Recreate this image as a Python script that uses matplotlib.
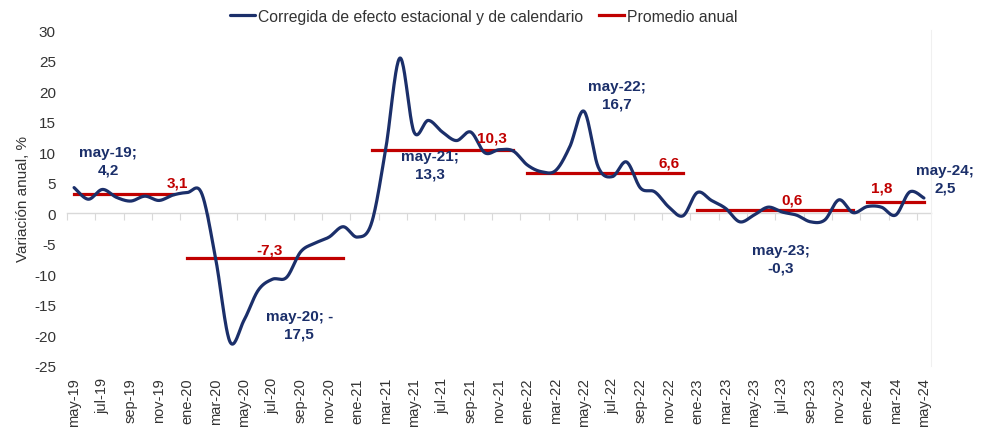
import matplotlib.pyplot as plt
import numpy as np

plt.rcParams['font.family'] = ['Liberation Sans', 'DejaVu Sans']
plt.rcParams['axes.unicode_minus'] = False

# monthly series, may-19 .. may-24
months_es = ['ene', 'feb', 'mar', 'abr', 'may', 'jun', 'jul', 'ago', 'sep', 'oct', 'nov', 'dic']
month_labels = []
for k in range(61):
    m = (4 + k) % 12
    yr = 19 + (4 + k) // 12
    month_labels.append('{}-{}'.format(months_es[m], yr))

values = [
    4.2, 2.3, 3.9, 2.6, 2.0, 2.8, 2.1, 3.0,                        # 2019
    3.4, 3.3, -7.5, -21.0, -17.5, -12.6, -10.8, -10.5, -6.3, -4.9, -3.9, -2.2,  # 2020
    -3.9, -1.6, 10.5, 25.4, 13.3, 15.2, 13.3, 11.9, 13.3, 9.9, 10.4, 10.2,     # 2021
    7.9, 6.8, 7.0, 10.9, 16.7, 7.6, 6.0, 8.4, 4.1, 3.5, 1.0, -0.4,             # 2022
    3.4, 2.1, 0.8, -1.4, -0.3, 1.0, 0.2, -0.3, -1.4, -1.1, 2.2, 0.1,           # 2023
    1.1, 1.0, -0.3, 3.5, 2.5,                                                  # 2024
]

# annual averages: value, first and last month index of the segment
avg_values = [3.1, -7.3, 10.3, 6.6, 0.6, 1.8]
avg_labels = ['3,1', '-7,3', '10,3', '6,6', '0,6', '1,8']
avg_start = [0, 8, 21, 32, 44, 56]
avg_end = [7, 19, 31, 43, 55, 60]

# highlighted points
note_idx = [0, 12, 24, 36, 48, 60]
note_text = ['may-19;\n4,2', 'may-20; -\n17,5', 'may-21;\n13,3',
             'may-22;\n16,7', 'may-23;\n-0,3', 'may-24;\n2,5']

navy = '#1b2f6a'
red = '#c00000'
gray_txt = '#333333'


def smooth(x, y, n=24):
    # Catmull-Rom like Excel's smoothed line
    x = np.asarray(x, float)
    y = np.asarray(y, float)
    xs, ys = [], []
    for i in range(len(x) - 1):
        i0 = max(i - 1, 0)
        i3 = min(i + 2, len(x) - 1)
        t = np.linspace(0, 1, n, endpoint=False)
        for arr, out in ((x, xs), (y, ys)):
            p0, p1, p2, p3 = arr[i0], arr[i], arr[i + 1], arr[i3]
            out.extend(0.5 * ((2 * p1) + (-p0 + p2) * t
                              + (2 * p0 - 5 * p1 + 4 * p2 - p3) * t ** 2
                              + (-p0 + 3 * p1 - 3 * p2 + p3) * t ** 3))
    xs.append(x[-1])
    ys.append(y[-1])
    return np.array(xs), np.array(ys)


fig = plt.figure(figsize=(9.83, 4.31), dpi=100)
ax = fig.add_axes([67 / 983, 1 - 367 / 431, (931 - 67) / 983, (367 - 31) / 431])

xi = np.arange(len(values))
sx, sy = smooth(xi, values)
ax.plot(sx, sy, color=navy, lw=2.3, solid_capstyle='round',
        label='Corregida de efecto estacional y de calendario', zorder=3)

for k, (v, a, b) in enumerate(zip(avg_values, avg_start, avg_end)):
    ax.plot([a, b], [v, v], color=red, lw=2.3,
            label='Promedio anual' if k == 0 else None, zorder=2)

ax.set_xlim(-0.5, len(values) - 0.5)
ax.set_ylim(-25, 30)
ax.set_yticks(np.arange(-25, 31, 5))
ax.tick_params(axis='y', length=0, labelsize=11, colors=gray_txt, pad=8)
ax.set_xticks(xi[::2])
ax.set_xticklabels(month_labels[::2], rotation=90)
ax.tick_params(axis='x', length=0, labelsize=10.5, colors=gray_txt, pad=8)
for s in ['top', 'bottom', 'left']:
    ax.spines[s].set_visible(False)
ax.spines['right'].set_color('#f0f0f0')

# horizontal axis line at zero with tick marks between categories
zero_ax = ax.secondary_xaxis(25 / 55)
zero_ax.set_xticks(np.arange(-0.5, len(values), 2))
zero_ax.tick_params(axis='x', direction='out', length=5, color='#d9d9d9',
                    labelbottom=False, labeltop=False)
zero_ax.spines['bottom'].set_color('#d9d9d9')
zero_ax.spines['bottom'].set_linewidth(1)

ax.set_ylabel('Variación anual, %', fontsize=11, color=gray_txt, labelpad=3)

# annotations
avg_pos = [(7.3, 5.0), (13.8, -6.0), (29.5, 12.4), (42.0, 8.3), (50.7, 2.2), (57.0, 4.3)]
for (tx, ty), t in zip(avg_pos, avg_labels):
    ax.text(tx, ty, t, color=red, fontsize=11, fontweight='bold', ha='center', va='center')

note_pos = [(2.4, 8.6), (15.9, -18.2), (25.1, 7.9), (38.3, 19.4), (49.9, -7.4), (61.5, 5.6)]
for (tx, ty), t in zip(note_pos, note_text):
    ax.text(tx, ty, t, color=navy, fontsize=11, fontweight='bold', ha='center',
            va='center', linespacing=1.3, clip_on=False)

fig.legend(loc='upper center', bbox_to_anchor=(0.492, 1.01), ncol=2, frameon=False,
           fontsize=11.3, handlelength=1.6, handletextpad=0.2, columnspacing=1.0,
           labelcolor=gray_txt)

fig.savefig('out.png', dpi=100)
